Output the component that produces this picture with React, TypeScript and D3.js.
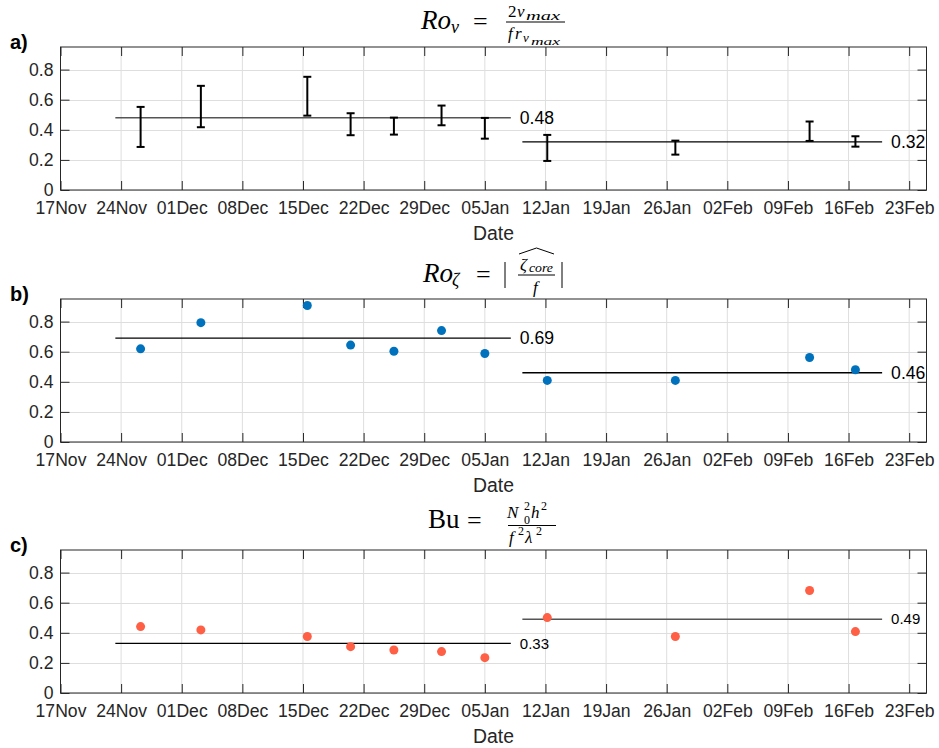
import React, { useEffect, useRef } from 'react';
import * as d3 from 'd3';

// observation dates, shared by the three panels
const obsDates = [
	'2019-11-26T06:00', '2019-12-03T05:00', '2019-12-15T12:00', '2019-12-20T12:00',
	'2019-12-25T12:00', '2019-12-31T00:00', '2020-01-05T00:00', '2020-01-12T05:00',
	'2020-01-27T00:00', '2020-02-11T12:00', '2020-02-16T19:00',
];

// a) Ro_v range (error bars)
const rovLow = [0.286, 0.417, 0.494, 0.364, 0.368, 0.43, 0.341, 0.193, 0.235, 0.326, 0.288];
const rovHigh = [0.552, 0.692, 0.752, 0.51, 0.481, 0.561, 0.479, 0.366, 0.328, 0.455, 0.357];
// b) Ro_zeta
const roZeta = [0.619, 0.793, 0.907, 0.644, 0.603, 0.74, 0.588, 0.409, 0.409, 0.561, 0.48];
// c) Burger number
const burger = [0.441, 0.419, 0.375, 0.308, 0.286, 0.275, 0.235, 0.501, 0.375, 0.681, 0.408];

// period means
const periodStart = ['2019-11-23T08:00', '2020-01-09T08:00'];
const periodEnd = ['2020-01-08T00:00', '2020-02-19T21:00'];
const rovMeans = [0.48, 0.32];
const zetaMeans = [0.69, 0.46];
const buMeans = [0.33, 0.49];

const xDomain = ['2019-11-17T00:00', '2020-02-25T00:00'];
const yTicks = [0, 0.2, 0.4, 0.6, 0.8];
const yMax = 0.95;
const panelLetters = ['a)', 'b)', 'c)'];

const SANS = '"Liberation Sans", Arial, Helvetica, sans-serif';
const SERIF = '"Liberation Serif", "Times New Roman", serif';
const AX = '#262626';

const parse = d3.utcParse('%Y-%m-%dT%H:%M');

// title pieces: text, x, baseline, size, italic, stretched width
const titles = [
	{
		pieces: [
			['Ro', 421, 29, 27, true, 0], ['v', 451, 33, 18, true, 0], ['=', 473, 30, 26, false, 0],
			['2', 508, 17, 17, false, 0], ['v', 517, 17, 17, true, 0], ['max', 526, 20, 13, true, 34],
			['f', 508, 39, 17, true, 0], ['r', 515, 39, 17, true, 0], ['v', 523, 42, 13, true, 0],
			['max', 531, 45, 10, true, 29],
		],
		bars: [[506, 565, 22]],
		vbars: [],
		hat: null,
	},
	{
		pieces: [
			['Ro', 423, 282, 27, true, 0], ['ζ', 452, 286, 18, true, 0], ['=', 476, 283, 26, false, 0],
			['ζ', 520, 270, 17, true, 0], ['core', 529, 272, 12, true, 24], ['f', 533, 293, 17, true, 0],
		],
		bars: [[518, 555, 275]],
		vbars: [[505, 262, 288], [562, 262, 288]],
		hat: [519, 554, 254, 248],
	},
	{
		pieces: [
			['Bu', 428, 528, 27, false, 0], ['=', 467, 529, 26, false, 0],
			['N', 507, 518, 17, true, 0], ['2', 524, 510, 12, false, 0], ['0', 524, 524, 12, false, 0],
			['h', 531, 518, 17, true, 0], ['2', 541, 510, 12, false, 0],
			['f', 509, 543, 17, true, 0], ['2', 518, 535, 12, false, 0], ['λ', 525, 543, 17, true, 0],
			['2', 536, 535, 12, false, 0],
		],
		bars: [[508, 556, 525.5]],
		vbars: [],
		hat: null,
	},
];

export default function App() {
	const svgRef = useRef(null);

	const drawChart = () => {
		const svgEl = svgRef.current;
		if (!svgEl) return;
		const svg = d3.select(svgEl);
		svg.selectAll('*').remove();

		const left = 60.5;
		const right = 926.5;
		const tops = [47, 299, 550];
		const h = 143;

		const x = d3.scaleUtc().domain(xDomain.map(parse)).range([left, right]);
		const xTicks = x.ticks(d3.utcSunday);
		const fmt = d3.utcFormat('%d%b');
		const dates = obsDates.map(parse);

		const panels = [
			{ means: rovMeans, labelSize: 17.6, lineColors: ['#555', '#000'] },
			{ means: zetaMeans, labelSize: 17.6, lineColors: ['#000', '#000'] },
			{ means: buMeans, labelSize: 15, lineColors: ['#000', '#555'] },
		];

		panels.forEach((p, pi) => {
			const top = tops[pi];
			const bottom = top + h;
			const y = d3.scaleLinear().domain([0, yMax]).range([bottom, top]);
			const g = svg.append('g');

			// grid
			g.selectAll('.gx')
				.data(xTicks)
				.join('line')
				.attr('x1', (d) => x(d))
				.attr('x2', (d) => x(d))
				.attr('y1', top)
				.attr('y2', bottom)
				.attr('stroke', '#dedede');
			g.selectAll('.gy')
				.data(yTicks)
				.join('line')
				.attr('x1', left)
				.attr('x2', right)
				.attr('y1', (d) => Math.round(y(d)) + 0.5)
				.attr('y2', (d) => Math.round(y(d)) + 0.5)
				.attr('stroke', '#dedede');

			// axes, ticks inward
			const styleAxis = (sel) => {
				sel.selectAll('.domain, .tick line').attr('stroke', AX);
				sel.selectAll('text')
					.attr('fill', AX)
					.style('font-family', SANS)
					.style('font-size', '17.6px');
			};
			g.append('g')
				.attr('transform', `translate(0,${bottom})`)
				.call(d3.axisBottom(x).tickValues(xTicks).tickFormat(fmt).tickSize(-9).tickSizeOuter(0).tickPadding(12))
				.call(styleAxis);
			g.append('g')
				.attr('transform', `translate(0,${top})`)
				.call(d3.axisTop(x).tickValues(xTicks).tickFormat(() => '').tickSize(-9).tickSizeOuter(0))
				.call(styleAxis);
			g.append('g')
				.attr('transform', `translate(${left},0)`)
				.call(d3.axisLeft(y).tickValues(yTicks).tickFormat((d) => String(d)).tickSize(-9).tickSizeOuter(0).tickPadding(7))
				.call(styleAxis);
			g.append('g')
				.attr('transform', `translate(${right},0)`)
				.call(d3.axisRight(y).tickValues(yTicks).tickFormat(() => '').tickSize(-9).tickSizeOuter(0))
				.call(styleAxis);
			g.selectAll('.domain').remove();
			g.append('rect')
				.attr('x', left)
				.attr('y', top)
				.attr('width', right - left)
				.attr('height', h)
				.attr('fill', 'none')
				.attr('stroke', AX);

			// period mean lines + labels
			p.means.forEach((m, k) => {
				const x1 = x(parse(periodStart[k]));
				const x2 = x(parse(periodEnd[k]));
				g.append('line')
					.attr('x1', x1)
					.attr('x2', x2)
					.attr('y1', y(m))
					.attr('y2', y(m))
					.attr('stroke', p.lineColors[k])
					.attr('stroke-width', 1.3);
				g.append('text')
					.attr('x', x2 + 9)
					.attr('y', y(m))
					.attr('dy', '0.35em')
					.style('font-family', SANS)
					.style('font-size', `${p.labelSize}px`)
					.text(m.toFixed(2));
			});

			// marks
			if (pi === 0) {
				const eb = g.selectAll('.eb').data(dates).join('g');
				eb.append('line')
					.attr('x1', (d) => x(d))
					.attr('x2', (d) => x(d))
					.attr('y1', (d, i) => y(rovLow[i]))
					.attr('y2', (d, i) => y(rovHigh[i]));
				[rovLow, rovHigh].forEach((arr) => {
					eb.append('line')
						.attr('x1', (d) => x(d) - 4)
						.attr('x2', (d) => x(d) + 4)
						.attr('y1', (d, i) => y(arr[i]))
						.attr('y2', (d, i) => y(arr[i]));
				});
				eb.selectAll('line').attr('stroke', '#000').attr('stroke-width', 2);
			} else {
				const vals = pi === 1 ? roZeta : burger;
				g.selectAll('.dot')
					.data(dates)
					.join('circle')
					.attr('cx', (d) => x(d))
					.attr('cy', (d, i) => y(vals[i]))
					.attr('r', 4.5)
					.attr('fill', pi === 1 ? '#0072bd' : '#fe5f45');
			}

			// x label
			g.append('text')
				.attr('x', (left + right) / 2)
				.attr('y', bottom + 49.5)
				.attr('text-anchor', 'middle')
				.attr('fill', AX)
				.style('font-family', SANS)
				.style('font-size', '19.4px')
				.text('Date');

			// panel letter
			g.append('text')
				.attr('x', 10)
				.attr('y', top + 2)
				.style('font-family', SANS)
				.style('font-size', '20px')
				.style('font-weight', 'bold')
				.text(panelLetters[pi]);

			// title (math)
			const t = titles[pi];
			t.pieces.forEach(([str, px, py, size, it, w]) => {
				const tx = g.append('text')
					.attr('x', px)
					.attr('y', py)
					.style('font-family', SERIF)
					.style('font-size', `${size}px`)
					.style('font-style', it ? 'italic' : 'normal')
					.text(str);
				if (w) tx.attr('textLength', w).attr('lengthAdjust', 'spacingAndGlyphs');
			});
			t.bars.forEach(([a, b, yy]) => {
				g.append('line').attr('x1', a).attr('x2', b).attr('y1', yy).attr('y2', yy)
					.attr('stroke', '#000').attr('stroke-width', 1);
			});
			t.vbars.forEach(([xx, a, b]) => {
				g.append('line').attr('x1', xx).attr('x2', xx).attr('y1', a).attr('y2', b)
					.attr('stroke', '#000').attr('stroke-width', 1);
			});
			if (t.hat) {
				const [a, b, base, apex] = t.hat;
				g.append('path')
					.attr('d', `M${a},${base} L${(a + b) / 2},${apex} L${b},${base}`)
					.attr('fill', 'none')
					.attr('stroke', '#000')
					.attr('stroke-width', 1);
			}
		});
	};

	useEffect(() => {
		drawChart();
	}, []);

	return (
		<svg
			ref={svgRef}
			width={939}
			height={748}
			style={{ position: 'absolute', left: 0, top: 0, background: '#fff' }}
		/>
	);
}
